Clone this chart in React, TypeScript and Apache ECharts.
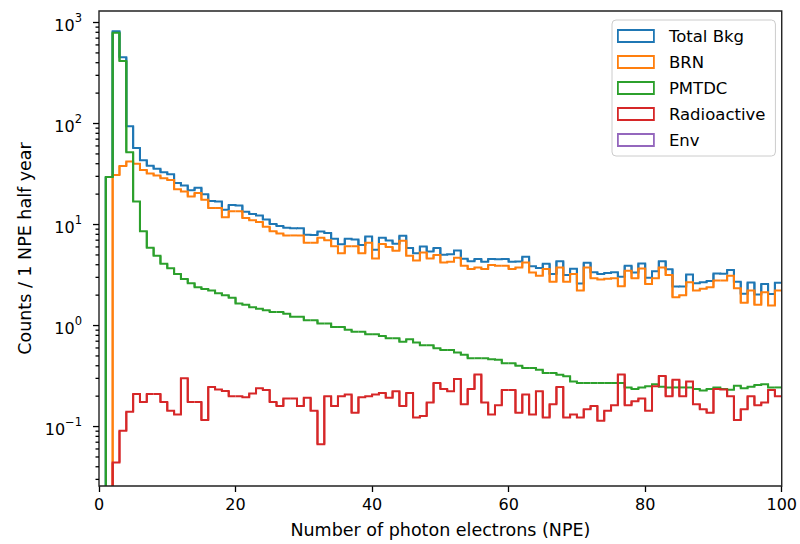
import React, { useEffect, useRef } from "react";
import * as echarts from "echarts";

// ---------------- data ----------------
const binStarts = [
  0, 1, 2, 3, 4, 5, 6, 7, 8, 9, 10, 11, 12, 13, 14, 15, 16, 17, 18, 19,
  20, 21, 22, 23, 24, 25, 26, 27, 28, 29, 30, 31, 32, 33, 34, 35, 36, 37, 38, 39,
  40, 41, 42, 43, 44, 45, 46, 47, 48, 49, 50, 51, 52, 53, 54, 55, 56, 57, 58, 59,
  60, 61, 62, 63, 64, 65, 66, 67, 68, 69, 70, 71, 72, 73, 74, 75, 76, 77, 78, 79,
  80, 81, 82, 83, 84, 85, 86, 87, 88, 89, 90, 91, 92, 93, 94, 95, 96, 97, 98, 99,
];
const binWidth = 1;

const totalBkg = [
  0, 29.5, 821, 453, 94.1, 57.1, 43.4, 38.1, 35.6, 33.0,
  31.4, 25.8, 24.4, 21.8, 23.1, 20.0, 17.1, 16.9, 14.0, 15.6,
  15.4, 13.4, 12.7, 12.3, 11.2, 10.1, 9.68, 9.3, 9.21, 9.18,
  7.92, 7.87, 8.52, 8.25, 7.23, 6.37, 7.22, 7.11, 6.27, 7.62,
  5.63, 7.41, 6.94, 6.47, 7.75, 5.85, 5.2, 6.07, 5.41, 5.87,
  5.01, 5.07, 5.54, 4.58, 4.33, 4.56, 4.27, 4.57, 4.52, 4.55,
  4.27, 4.3, 4.79, 3.87, 3.71, 4.08, 3.23, 4.33, 3.16, 3.64,
  2.61, 4.18, 3.37, 3.23, 3.31, 3.37, 3.05, 3.9, 3.35, 4.11,
  2.97, 3.45, 4.33, 3.6, 2.44, 2.43, 3.2, 2.62, 2.69, 2.76,
  3.27, 3.26, 3.55, 2.71, 2.07, 2.67, 2.03, 2.58, 2.05, 2.66,
];

const brn = [
  0, 0, 31, 38, 42, 40, 34.6, 32, 30.5, 28.7,
  27.6, 22.4, 21.2, 19, 20.5, 17.6, 14.6, 14.6, 11.8, 13.5,
  13.5, 11.6, 11, 10.6, 9.5, 8.6, 8.16, 7.8, 7.8, 7.8,
  6.6, 6.6, 7.4, 7.0, 6.1, 5.2, 6.1, 6.1, 5.2, 6.6,
  4.6, 6.4, 6.0, 5.5, 6.9, 4.9, 4.4, 5.3, 4.6, 5.0,
  4.2, 4.27, 4.7, 3.9, 3.62, 3.76, 3.62, 3.97, 3.9, 3.9,
  3.62, 3.76, 4.2, 3.36, 3.12, 3.62, 2.72, 3.76, 2.72, 3.23,
  2.22, 3.76, 2.94, 2.85, 2.9, 2.94, 2.45, 3.49, 2.94, 3.68,
  2.58, 2.94, 3.76, 3.16, 1.91, 1.99, 2.68, 2.22, 2.31, 2.39,
  2.79, 2.79, 3.12, 2.34, 1.68, 2.22, 1.61, 2.14, 1.58, 2.22,
];

const pmtdc = [
  0, 29.5, 790, 415, 52, 16.9, 8.6, 5.9, 4.9, 4.1,
  3.7, 3.24, 2.89, 2.62, 2.4, 2.3, 2.22, 2.09, 1.99, 1.88,
  1.65, 1.61, 1.52, 1.47, 1.42, 1.36, 1.36, 1.31, 1.22, 1.22,
  1.13, 1.13, 1.05, 1.05, 0.97, 0.97, 0.91, 0.87, 0.87, 0.82,
  0.82, 0.79, 0.75, 0.75, 0.69, 0.73, 0.68, 0.64, 0.64, 0.595,
  0.574, 0.574, 0.54, 0.513, 0.475, 0.475, 0.475, 0.465, 0.458, 0.424,
  0.424, 0.4, 0.379, 0.379, 0.365, 0.339, 0.339, 0.325, 0.314, 0.28,
  0.27, 0.27, 0.27, 0.27, 0.27, 0.27, 0.27, 0.244, 0.236, 0.244,
  0.25, 0.262, 0.248, 0.244, 0.244, 0.244, 0.244, 0.236, 0.228, 0.236,
  0.244, 0.236, 0.232, 0.253, 0.24, 0.248, 0.258, 0.262, 0.244, 0.244,
];

const radioactive = [
  0, 0, 0.044, 0.091, 0.14, 0.21, 0.175, 0.21, 0.21, 0.175,
  0.143, 0.132, 0.3, 0.175, 0.175, 0.116, 0.247, 0.233, 0.225, 0.2,
  0.2, 0.195, 0.212, 0.24, 0.23, 0.175, 0.16, 0.19, 0.19, 0.16,
  0.193, 0.143, 0.067, 0.2, 0.16, 0.2, 0.208, 0.137, 0.195, 0.2,
  0.208, 0.215, 0.193, 0.224, 0.16, 0.215, 0.123, 0.127, 0.173, 0.27,
  0.236, 0.224, 0.296, 0.166, 0.236, 0.327, 0.173, 0.132, 0.163, 0.23,
  0.23, 0.137, 0.208, 0.132, 0.224, 0.123, 0.166, 0.247, 0.123, 0.132,
  0.123, 0.148, 0.16, 0.114, 0.143, 0.163, 0.327, 0.163, 0.178, 0.19,
  0.143, 0.25, 0.317, 0.2, 0.29, 0.2, 0.28, 0.166, 0.148, 0.137,
  0.236, 0.233, 0.2, 0.116, 0.148, 0.2, 0.163, 0.173, 0.23, 0.2,
];

const env = [
  0, 0, 0, 0, 0, 0, 0, 0, 0, 0,
  0, 0, 0, 0, 0, 0, 0, 0, 0, 0,
  0, 0, 0, 0, 0, 0, 0, 0, 0, 0,
  0, 0, 0, 0, 0, 0, 0, 0, 0, 0,
  0, 0, 0, 0, 0, 0, 0, 0, 0, 0,
  0, 0, 0, 0, 0, 0, 0, 0, 0, 0,
  0, 0, 0, 0, 0, 0, 0, 0, 0, 0,
  0, 0, 0, 0, 0, 0, 0, 0, 0, 0,
  0, 0, 0, 0, 0, 0, 0, 0, 0, 0,
  0, 0, 0, 0, 0, 0, 0, 0, 0, 0,
];

const seriesNames = ["Total Bkg", "BRN", "PMTDC", "Radioactive", "Env"];
const seriesColors = ["#1f77b4", "#ff7f0e", "#2ca02c", "#d62728", "#9467bd"];
const seriesValues = [totalBkg, brn, pmtdc, radioactive, env];

const xTicks = [0, 20, 40, 60, 80, 100];
const yMajorTicks = [0.1, 1, 10, 100, 1000];
const yMinorTicks = [
  0.03, 0.04, 0.05, 0.06, 0.07, 0.08, 0.09,
  0.2, 0.3, 0.4, 0.5, 0.6, 0.7, 0.8, 0.9,
  2, 3, 4, 5, 6, 7, 8, 9,
  20, 30, 40, 50, 60, 70, 80, 90,
  200, 300, 400, 500, 600, 700, 800, 900,
];
const yMin = 0.0258;
const yMax = 1300;

const FONT = "DejaVu Sans";
const LINE_W = 2;

function histSeries(name: string, values: number[], color: string) {
  const n = values.length;
  return {
    type: "custom",
    name,
    coordinateSystem: "cartesian2d",
    clip: true,
    silent: true,
    z: 2,
    itemStyle: { color },
    encode: { x: 0, y: 1 },
    // [bin start, value, previous bin value, next bin value]
    // (the last bin keeps its own level: its drop at x=100 lies under the right spine)
    data: values.map((v, i) => [
      binStarts[i],
      v,
      i > 0 ? values[i - 1] : 0,
      i < n - 1 ? values[i + 1] : v,
    ]),
    renderItem: (params: any, api: any) => {
      const cs = params.coordSys;
      const below = cs.y + cs.height + 30;
      const yOf = (v: number) => (v > 0 ? api.coord([binStarts[0], v])[1] : below);
      const x0v = api.value(0);
      const x0 = api.coord([x0v, 1])[0];
      const x1 = api.coord([x0v + binWidth, 1])[0];
      const y = yOf(api.value(1));
      const yp = yOf(api.value(2));
      const yn = yOf(api.value(3));
      return {
        type: "polyline",
        shape: { points: [[x0, yp], [x0, y], [x1, y], [x1, yn]] },
        style: { stroke: color, fill: null, lineWidth: LINE_W, lineJoin: "miter" },
      };
    },
  };
}

function tickSeries(name: string, values: number[], len: number) {
  return {
    type: "custom",
    name,
    coordinateSystem: "cartesian2d",
    clip: false,
    silent: true,
    data: values.map((v) => [0, v]),
    encode: { x: 0, y: 1 },
    z: 5,
    renderItem: (params: any, api: any) => {
      const cs = params.coordSys;
      const y = api.coord([0, api.value(1)])[1];
      return {
        type: "line",
        shape: { x1: cs.x - len, y1: y, x2: cs.x, y2: y },
        style: { stroke: "#000", lineWidth: 1.3 },
      };
    },
  };
}

function supLabel(v: number) {
  const lg = Math.log10(v);
  const e = Math.round(lg);
  if (Math.abs(lg - e) > 1e-6) return "";
  const es = e < 0 ? "\u2212" + String(-e) : String(e);
  return "{b|10}{s|" + es + "}";
}

export default function App() {
  const ref = useRef<HTMLDivElement>(null);

  useEffect(() => {
    if (!ref.current) return;
    const chart = echarts.init(ref.current, undefined, { renderer: "svg" });
    const option: any = {
      animation: false,
      backgroundColor: "#ffffff",
      grid: {
        left: 99,
        right: 16,
        top: 11,
        bottom: 54,
        show: true,
        z: 4,
        borderColor: "#222",
        borderWidth: 1.4,
        backgroundColor: "transparent",
      },
      legend: {
        orient: "vertical",
        left: 612,
        top: 20,
        padding: [7, 10, 7, 5],
        itemWidth: 36,
        itemHeight: 12,
        itemGap: 8,
        borderColor: "#cccccc",
        borderWidth: 1,
        borderRadius: 4,
        backgroundColor: "rgba(255,255,255,0.8)",
        selectedMode: false,
        z: 6,
        textStyle: {
          fontFamily: FONT,
          fontSize: 16.5,
          color: "#000",
          lineHeight: 18,
          padding: [0, 0, 0, 10],
        },
        data: seriesNames.map((nm, i) => ({
          name: nm,
          icon: "rect",
          itemStyle: { color: "transparent", borderColor: seriesColors[i], borderWidth: 1.8 },
        })),
      },
      xAxis: {
        type: "value",
        min: 0,
        max: 100,
        interval: 20,
        name: "Number of photon electrons (NPE)",
        nameLocation: "middle",
        nameGap: 35,
        nameTextStyle: { fontFamily: FONT, fontSize: 17.5, color: "#000" },
        axisLine: { show: false },
        axisTick: { show: true, inside: false, length: 6, lineStyle: { color: "#000", width: 1.3 } },
        axisLabel: {
          fontFamily: FONT,
          fontSize: 16,
          color: "#000",
          margin: 10,
          customValues: xTicks,
        },
        splitLine: { show: false },
      },
      yAxis: {
        type: "log",
        min: yMin,
        max: yMax,
        logBase: 10,
        name: "Counts / 1 NPE half year",
        nameLocation: "middle",
        nameGap: 65,
        nameTextStyle: { fontFamily: FONT, fontSize: 17.5, color: "#000" },
        axisLine: { show: false },
        axisTick: { show: false },
        minorTick: { show: false },
        splitLine: { show: false },
        axisLabel: {
          margin: 17,
          color: "#000",
          formatter: supLabel,
          rich: {
            b: { fontFamily: FONT, fontSize: 16, color: "#000", lineHeight: 22, padding: [6, 0, 0, 0] },
            s: { fontFamily: FONT, fontSize: 11.5, color: "#000", lineHeight: 12, verticalAlign: "top" },
          },
        },
      },
      series: [
        ...seriesNames.map((nm, i) => histSeries(nm, seriesValues[i], seriesColors[i])),
        tickSeries("majorTicks", yMajorTicks, 6),
        tickSeries("minorTicks", yMinorTicks, 3.5),
      ],
    };
    chart.setOption(option);
    return () => chart.dispose();
  }, []);

  return (
    <div
      ref={ref}
      style={{ position: "fixed", left: 0, top: 0, width: 800, height: 544, background: "#fff" }}
    />
  );
}
